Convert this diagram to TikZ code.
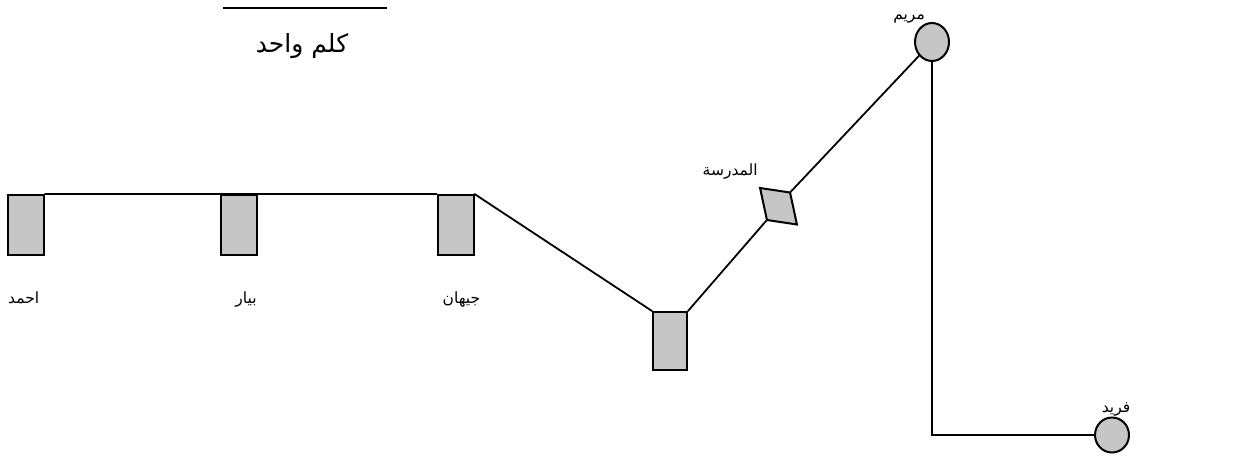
\documentclass[tikz,border=0pt]{standalone}
\usepackage{fontspec}
\usepackage{xcolor}
\usepackage{tikz}
\usetikzlibrary{positioning, shapes}
\newfontfamily\arabicfont[Script=Arabic]{DejaVu Sans}
\TeXXeTstate=1

\begin{document}
\begin{tikzpicture}[x=1pt, y=-1pt, node distance=36pt,
    box/.style={rectangle, draw=black, fill=gray!45, line width=2pt,
                minimum width=36pt, minimum height=60pt, inner sep=0pt},
    member/.style={ellipse, draw=black, fill=gray!45, line width=2pt,
                minimum width=34pt, minimum height=38pt, inner sep=0pt},
    school/.style={rectangle, draw=black, fill=gray!45, line width=2pt,
                minimum width=30pt, minimum height=32pt, inner sep=0pt,
                cm={1,-0.15,-0.215,1,(0,0)}, transform shape},
    nametext/.style={font=\arabicfont\fontsize{15.5}{18}\selectfont, inner sep=1pt},
    wire/.style={line width=1.8pt, line cap=round}]

\useasboundingbox (0,0) rectangle (1235,460);

% title
\coordinate (rulewest) at (223,8);
\coordinate (ruleeast) at (387,8);
\draw[line width=2pt] (rulewest) -- (ruleeast);
\node[font=\arabicfont\fontsize{25}{30}\selectfont] (title) at (302,46) {\beginR كلم واحد\endR};

\node[box] (ahmad) at (26,225) {};
\node[box] (biar) at (239,225) {};
\node[box] (jihan) at (455.5,225) {};
\node[box, minimum width=34pt, minimum height=58pt] (mid) at (670,341) {};
\node[school] (madrasa) at (778.5,206.25) {};
\node[member] (maryam) at (932,42) {};
\node[member, minimum height=35pt] (farid) at (1112,435) {};

\node[nametext, below=35pt of ahmad.south west, anchor=north west] (ahmadname) {\beginR احمد\endR};
\node[nametext, below=35pt of biar, xshift=7pt] (biarname) {\beginR بيار\endR};
\node[nametext, below=35pt of jihan, xshift=6pt] (jihanname) {\beginR جيهان\endR};
\node[nametext, above left=6pt and 0pt of madrasa.north west] (madrasaname) {\beginR المدرسة\endR};
\node[nametext, above left=-2pt and 6pt of maryam.north] (maryamname) {\beginR مريم\endR};
\node[nametext, above=-1pt of farid, xshift=4pt] (faridname) {\beginR فريد\endR};

\draw[wire] (ahmad.north east) -- (jihan.north west);
\draw[wire] (jihan.north east) -- (mid.north west);
\draw[wire] (mid.north east) -- (madrasa.south west);
\draw[wire] (madrasa.north east) -- (maryam);
\draw[line width=1.5pt] (maryam) |- (farid);
\end{tikzpicture}
\end{document}
